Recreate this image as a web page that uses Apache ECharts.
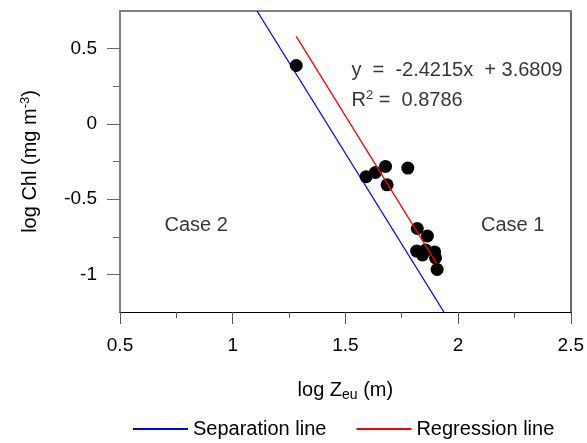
<!DOCTYPE html>
<html>
<head>
<meta charset="utf-8">
<script src="https://cdn.jsdelivr.net/npm/echarts@6/dist/echarts.min.js"></script>
<style>
html,body{margin:0;padding:0;background:#fff;}
#chart{width:587px;height:443px;}
</style>
</head>
<body>
<div id="chart"></div>
<script>
// ---- data ----
var logZeu = [1.282, 1.592, 1.633, 1.678, 1.685, 1.777, 1.819, 1.864, 1.816, 1.842, 1.856, 1.896, 1.900, 1.907];
var logChl = [0.388, -0.351, -0.323, -0.283, -0.405, -0.294, -0.695, -0.745, -0.845, -0.871, -0.838, -0.851, -0.891, -0.967];
var separationX = [1.108, 1.937];
var separationY = [0.75, -1.25];
var regressionX = [1.282, 1.904];
var regressionY = [0.582, -0.925];
var xTicks = [0.5, 1, 1.5, 2, 2.5];
var yTickLabels = [-1, -0.5, 0, 0.5];
var yMinorTicks = [-0.75, -0.25, 0.25];
var seriesNames = ['Separation line', 'Regression line'];
var annotations = [
  {x: 0.838, y: -0.678, text: 'Case 2', align: 'center'},
  {x: 2.242, y: -0.678, text: 'Case 1', align: 'center'},
  {x: 1.527, y: 0.352, text: 'y  =  -2.4215x  + 3.6809', align: 'left'},
  {x: 1.527, y: 0.158, text: 'R{sup|2} =  0.8786', align: 'left'}
];

function pairs(xs, ys) { return xs.map(function (x, i) { return [x, ys[i]]; }); }

var FONT = 'Liberation Sans, Arial, sans-serif';
var chart = echarts.init(document.getElementById('chart'), null, {renderer: 'canvas'});
var option = {
  animation: false,
  backgroundColor: '#ffffff',
  textStyle: {fontFamily: FONT, color: '#000'},
  grid: {left: 120, right: 16, top: 11, bottom: 131, containLabel: false},
  legend: {
    data: [{name: seriesNames[0], icon: 'rect'}, {name: seriesNames[1], icon: 'rect'}],
    left: 128, top: 414, padding: 5,
    itemWidth: 55, itemHeight: 2, itemGap: 30,
    textStyle: {fontFamily: FONT, fontSize: 20, color: '#000'}
  },
  xAxis: [{
    type: 'value', position: 'bottom',
    min: xTicks[0], max: xTicks[xTicks.length - 1], interval: 0.5,
    axisLine: {show: true, onZero: false, lineStyle: {color: '#000', width: 1}},
    axisTick: {show: true, inside: false, length: 12, lineStyle: {color: '#555', width: 1}},
    minorTick: {show: true, splitNumber: 2, length: 6, lineStyle: {color: '#555', width: 1}},
    axisLabel: {fontFamily: FONT, fontSize: 19, color: '#000', margin: 24},
    splitLine: {show: false},
    name: 'log Z{sub|eu} (m)',
    nameLocation: 'middle', nameGap: 66,
    nameTextStyle: {fontFamily: FONT, fontSize: 20, color: '#000',
      rich: {sub: {fontFamily: FONT, fontSize: 14, padding: [10, 0, 0, 0], color: '#000'}}}
  }, {
    type: 'value', position: 'top',
    min: xTicks[0], max: xTicks[xTicks.length - 1],
    axisLine: {show: true, onZero: false, lineStyle: {color: '#808080', width: 2}},
    axisTick: {show: false}, axisLabel: {show: false}, splitLine: {show: false}
  }],
  yAxis: [{
    type: 'value', position: 'left',
    min: -1.25, max: 0.75,
    axisLine: {show: true, onZero: false, lineStyle: {color: '#808080', width: 2}},
    axisTick: {show: true, inside: false, length: 13, customValues: yTickLabels, lineStyle: {color: '#666', width: 1}},
    axisLabel: {fontFamily: FONT, fontSize: 19, color: '#000', margin: 23, customValues: yTickLabels},
    splitLine: {show: false},
    name: 'log Chl (mg m{sup|-3})',
    nameLocation: 'middle', nameGap: 78, nameRotate: 90,
    nameTextStyle: {fontFamily: FONT, fontSize: 20, color: '#000',
      rich: {sup: {fontFamily: FONT, fontSize: 13, padding: [0, 0, 10, 0], color: '#000'}}}
  }, {
    type: 'value', position: 'left', offset: 0,
    min: -1.25, max: 0.75,
    axisLine: {show: false, onZero: false},
    axisTick: {show: true, inside: false, length: 7, customValues: yMinorTicks, lineStyle: {color: '#666', width: 1}},
    axisLabel: {show: false}, splitLine: {show: false}
  }, {
    type: 'value', position: 'right',
    min: -1.25, max: 0.75,
    axisLine: {show: true, onZero: false, lineStyle: {color: '#333', width: 1.5}},
    axisTick: {show: false}, axisLabel: {show: false}, splitLine: {show: false}
  }],
  series: [{
    name: seriesNames[0], type: 'line', xAxisIndex: 0, yAxisIndex: 0,
    data: pairs(separationX, separationY),
    symbol: 'none', color: '#0000ff',
    lineStyle: {color: '#0000ff', width: 1.3}, z: 2
  }, {
    name: seriesNames[1], type: 'line', xAxisIndex: 0, yAxisIndex: 0,
    data: pairs(regressionX, regressionY),
    symbol: 'none', color: '#ff0000',
    lineStyle: {color: '#ff0000', width: 1.3}, z: 4
  }, {
    name: 'data', type: 'scatter', xAxisIndex: 0, yAxisIndex: 0,
    data: pairs(logZeu, logChl),
    symbol: 'circle', symbolSize: 13,
    itemStyle: {color: '#000', opacity: 1}, z: 3
  }, {
    name: 'labels', type: 'scatter', xAxisIndex: 0, yAxisIndex: 0,
    symbolSize: 0, silent: true,
    data: annotations.map(function (a) {
      return {value: [a.x, a.y], label: {formatter: a.text, align: a.align}};
    }),
    label: {show: true, position: 'inside', verticalAlign: 'middle',
      fontFamily: FONT, fontSize: 20, color: '#000',
      rich: {sup: {fontFamily: FONT, fontSize: 13, padding: [0, 0, 10, 0], color: '#000'}}},
    z: 5
  }]
};
chart.setOption(option);
</script>
</body>
</html>
